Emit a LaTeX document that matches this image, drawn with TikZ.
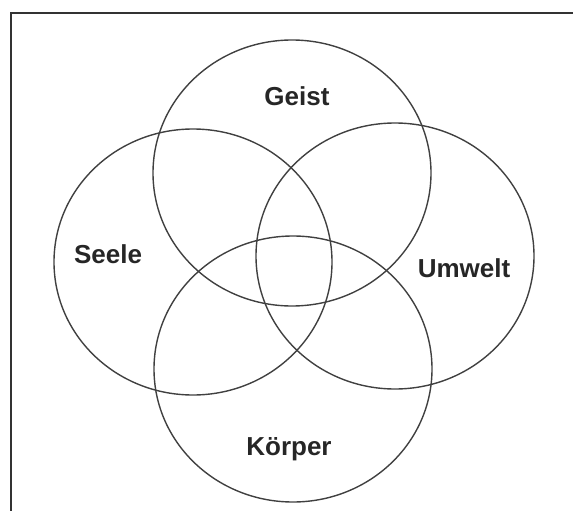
\documentclass[tikz,border=0pt]{standalone}
\usepackage{fontspec}
\setmainfont{Liberation Sans}
\usetikzlibrary{shapes.geometric}
\begin{document}
\begin{tikzpicture}[x=1pt,y=-1pt]
	% Styles (MODIFIABLES)
	\tikzstyle{cercle}=[draw=black!75,line width=1.4pt,ellipse,minimum width=278pt,minimum height=266pt,inner sep=0pt]
	\tikzstyle{etiquette}=[anchor=base,font=\fontsize{26}{30}\selectfont\bfseries,text=black!85]
	\tikzstyle{cadre}=[line width=1.6pt,black!80]
	% Dimensions (MODIFIABLES)
	\def\Largeur{573}
	\def\Hauteur{511}
	\useasboundingbox (0,0) rectangle (\Largeur,\Hauteur);
	% Cadre
	\coordinate (coinA) at (11,\Hauteur);
	\coordinate (coinB) at (11,13);
	\coordinate (coinC) at (\Largeur,13);
	\draw[cadre] (coinA)--(coinB)--(coinC);
	% Cercles
	\node[cercle] (Geist) at (292,173) {};
	\node[cercle] (Seele) at (193,262) {};
	\node[cercle] (Umwelt) at (395,256) {};
	\node[cercle] (Koerper) at (293,369) {};
	% Etiquettes
	\node[etiquette] (LGeist) at (297,105) {Geist};
	\node[etiquette] (LSeele) at (108,263) {Seele};
	\node[etiquette] (LUmwelt) at (464,277) {Umwelt};
	\node[etiquette] (LKoerper) at (289,455) {Körper};
\end{tikzpicture}
\end{document}
